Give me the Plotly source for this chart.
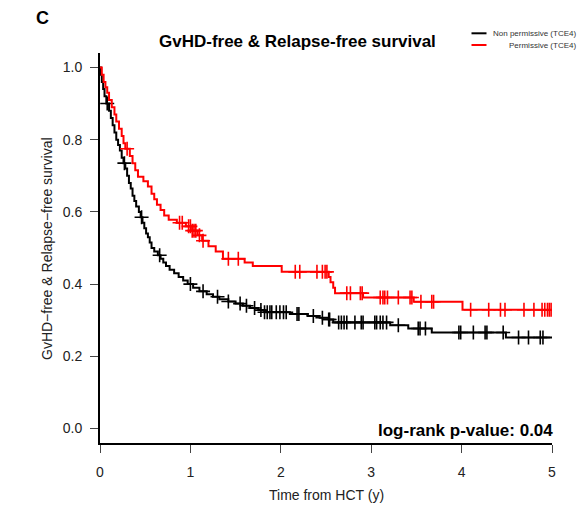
import plotly.graph_objects as go
import numpy as np

# ---- data ----
black_t = [0.0, 0.01, 0.02, 0.035, 0.05, 0.07, 0.10, 0.12, 0.14, 0.16, 0.18, 0.20, 0.22, 0.24, 0.26,
           0.28, 0.30, 0.32, 0.34, 0.36, 0.38, 0.40, 0.43, 0.45, 0.47, 0.49, 0.51, 0.53, 0.55, 0.57,
           0.60, 0.64, 0.67, 0.70, 0.73, 0.77, 0.82, 0.87, 0.92, 0.97, 1.03, 1.10, 1.18, 1.25, 1.32,
           1.42, 1.50, 1.58, 1.66, 1.75, 1.82, 2.10, 2.30, 2.43, 2.53, 2.58, 3.21, 3.41, 3.67, 4.49]
black_s = [1.0, 0.98, 0.96, 0.94, 0.92, 0.90, 0.88, 0.86, 0.84, 0.82, 0.80, 0.785, 0.77, 0.75, 0.735,
           0.72, 0.70, 0.68, 0.665, 0.645, 0.63, 0.615, 0.60, 0.585, 0.57, 0.555, 0.54, 0.53, 0.515, 0.50,
           0.49, 0.48, 0.47, 0.46, 0.45, 0.44, 0.43, 0.42, 0.41, 0.40, 0.39, 0.38, 0.372, 0.365, 0.358,
           0.352, 0.346, 0.34, 0.334, 0.328, 0.322, 0.317, 0.312, 0.307, 0.302, 0.294, 0.286, 0.277, 0.266, 0.252]
black_cens = [0.08, 0.27, 0.46, 0.66, 1.0, 1.14, 1.30, 1.42, 1.55, 1.62, 1.71, 1.78, 1.82, 1.85, 1.88,
              1.90, 1.95, 1.99, 2.03, 2.06, 2.18, 2.20, 2.36, 2.46, 2.53, 2.54, 2.64, 2.67, 2.70, 2.73,
              2.82, 2.89, 2.91, 3.04, 3.06, 3.10, 3.13, 3.17, 3.30, 3.52, 3.54, 3.60, 3.97, 3.99, 4.13,
              4.26, 4.28, 4.46, 4.63, 4.74, 4.87, 4.90]

red_t = [0.0, 0.02, 0.04, 0.06, 0.08, 0.10, 0.13, 0.16, 0.18, 0.21, 0.24, 0.26, 0.28, 0.33, 0.36,
         0.39, 0.42, 0.48, 0.53, 0.57, 0.60, 0.63, 0.67, 0.71, 0.76, 0.85, 0.95, 1.02, 1.08, 1.13,
         1.20, 1.28, 1.36, 1.60, 1.69, 2.01, 2.53, 2.55, 2.58, 2.60, 2.91, 3.47, 4.01]
red_s = [1.0, 0.98, 0.96, 0.945, 0.93, 0.91, 0.89, 0.87, 0.85, 0.83, 0.81, 0.79, 0.775, 0.755, 0.735,
         0.715, 0.697, 0.685, 0.67, 0.65, 0.635, 0.62, 0.605, 0.59, 0.578, 0.57, 0.56, 0.548, 0.535, 0.52,
         0.505, 0.49, 0.47, 0.46, 0.45, 0.434, 0.42, 0.405, 0.39, 0.375, 0.363, 0.351, 0.329]
red_cens = [0.30, 0.88, 0.91, 0.98, 1.00, 1.02, 1.04, 1.06, 1.10, 1.14, 1.42, 1.53, 2.16, 2.21, 2.40,
            2.46, 2.49, 2.51, 2.73, 2.77, 2.88, 2.90, 3.10, 3.13, 3.15, 3.18, 3.30, 3.43, 3.45, 3.55,
            3.67, 3.69, 4.10, 4.30, 4.43, 4.48, 4.69, 4.80, 4.89, 4.92, 4.95, 4.97, 4.99]

t_end = 5.0
x_ticks = [0, 1, 2, 3, 4, 5]
y_ticks = [0.0, 0.2, 0.4, 0.6, 0.8, 1.0]
y_ticktext = ["0.0", "0.2", "0.4", "0.6", "0.8", "1.0"]
series_names = ["Non permissive (TCE4)", "Permissive (TCE4)"]
series_colors = ["#000000", "#ff0000"]

FONT = "Liberation Sans, Arial, sans-serif"
W, H = 579, 505
ML, MR, MT, MB = 100, 27, 53, 62


def step_at(ts, ss, x):
    idx = np.searchsorted(np.array(ts), x, side="right") - 1
    return float(ss[max(idx, 0)])


fig = go.Figure()
for ts, ss, cens, col, name in [(black_t, black_s, black_cens, series_colors[0], series_names[0]),
                                (red_t, red_s, red_cens, series_colors[1], series_names[1])]:
    xs = list(ts) + [t_end]
    ys = list(ss) + [ss[-1]]
    fig.add_trace(go.Scatter(x=xs, y=ys, mode="lines", line=dict(color=col, width=2, shape="hv"),
                             name=name, showlegend=False, hoverinfo="skip"))
    fig.add_trace(go.Scatter(x=cens, y=[step_at(ts, ss, c) for c in cens], mode="markers",
                             marker=dict(symbol="cross-thin", size=10, line=dict(color=col, width=1.6)),
                             showlegend=False, hoverinfo="skip"))

pw = W - ML - MR
ph = H - MT - MB


def px(x):
    return (x - ML) / pw


def py(y):
    return (H - MB - y) / ph


annotations = [
    dict(text="<b>C</b>", x=px(42), y=py(18), xref="paper", yref="paper", showarrow=False,
         font=dict(size=18, family=FONT, color="#000"), xanchor="center", yanchor="middle"),
    dict(text="<b>GvHD-free & Relapse-free survival</b>", x=px(297), y=py(41), xref="paper", yref="paper",
         showarrow=False, font=dict(size=17, family=FONT, color="#000"), xanchor="center", yanchor="middle"),
    dict(text="<b>log-rank p-value: 0.04</b>", x=px(555), y=py(430), xref="paper", yref="paper",
         showarrow=False, font=dict(size=17, family=FONT, color="#000"), xanchor="right", yanchor="middle"),
    dict(text=series_names[0], x=px(577.5), y=py(33.3), xref="paper", yref="paper", showarrow=False,
         font=dict(size=8, family=FONT, color="#333"), xanchor="right", yanchor="middle"),
    dict(text=series_names[1], x=px(577.5), y=py(45), xref="paper", yref="paper", showarrow=False,
         font=dict(size=8, family=FONT, color="#333"), xanchor="right", yanchor="middle"),
    dict(text="Time from HCT (y)", x=px(326), y=py(495), xref="paper", yref="paper", showarrow=False,
         font=dict(size=14, family=FONT, color="#222"), xanchor="center", yanchor="middle"),
    dict(text="GvHD\u2212free & Relapse\u2212free survival", x=px(47), y=py(249), xref="paper",
         yref="paper", showarrow=False, textangle=-90,
         font=dict(size=14, family=FONT, color="#222"), xanchor="center", yanchor="middle"),
]
shapes = [
    dict(type="line", xref="paper", yref="paper", x0=px(471.5), x1=px(486.5), y0=py(33.3), y1=py(33.3),
         line=dict(color=series_colors[0], width=2)),
    dict(type="line", xref="paper", yref="paper", x0=px(471.5), x1=px(486.5), y0=py(45), y1=py(45),
         line=dict(color=series_colors[1], width=2)),
]

fig.update_layout(
    width=W, height=H, margin=dict(l=ML, r=MR, t=MT, b=MB, autoexpand=False),
    paper_bgcolor="white", plot_bgcolor="white",
    font=dict(family=FONT, size=14, color="#000"),
    annotations=annotations, shapes=shapes, showlegend=False,
    xaxis=dict(range=[0, 5], tickvals=x_ticks, ticks="outside", ticklen=8, tickwidth=1, tickcolor="#444",
               showline=True, linecolor="#000", linewidth=2, showgrid=False, zeroline=False,
               ticklabelstandoff=7, automargin=False,
               tickfont=dict(size=14, family=FONT, color="#222")),
    yaxis=dict(range=[-0.04, 1.04], tickvals=y_ticks, ticktext=y_ticktext, ticks="outside", ticklen=8,
               tickwidth=1, tickcolor="#444", showline=True, linecolor="#000", linewidth=2,
               ticklabelstandoff=5, automargin=False,
               showgrid=False, zeroline=False, tickfont=dict(size=14, family=FONT, color="#222")),
)

fig.write_html("out.html")
